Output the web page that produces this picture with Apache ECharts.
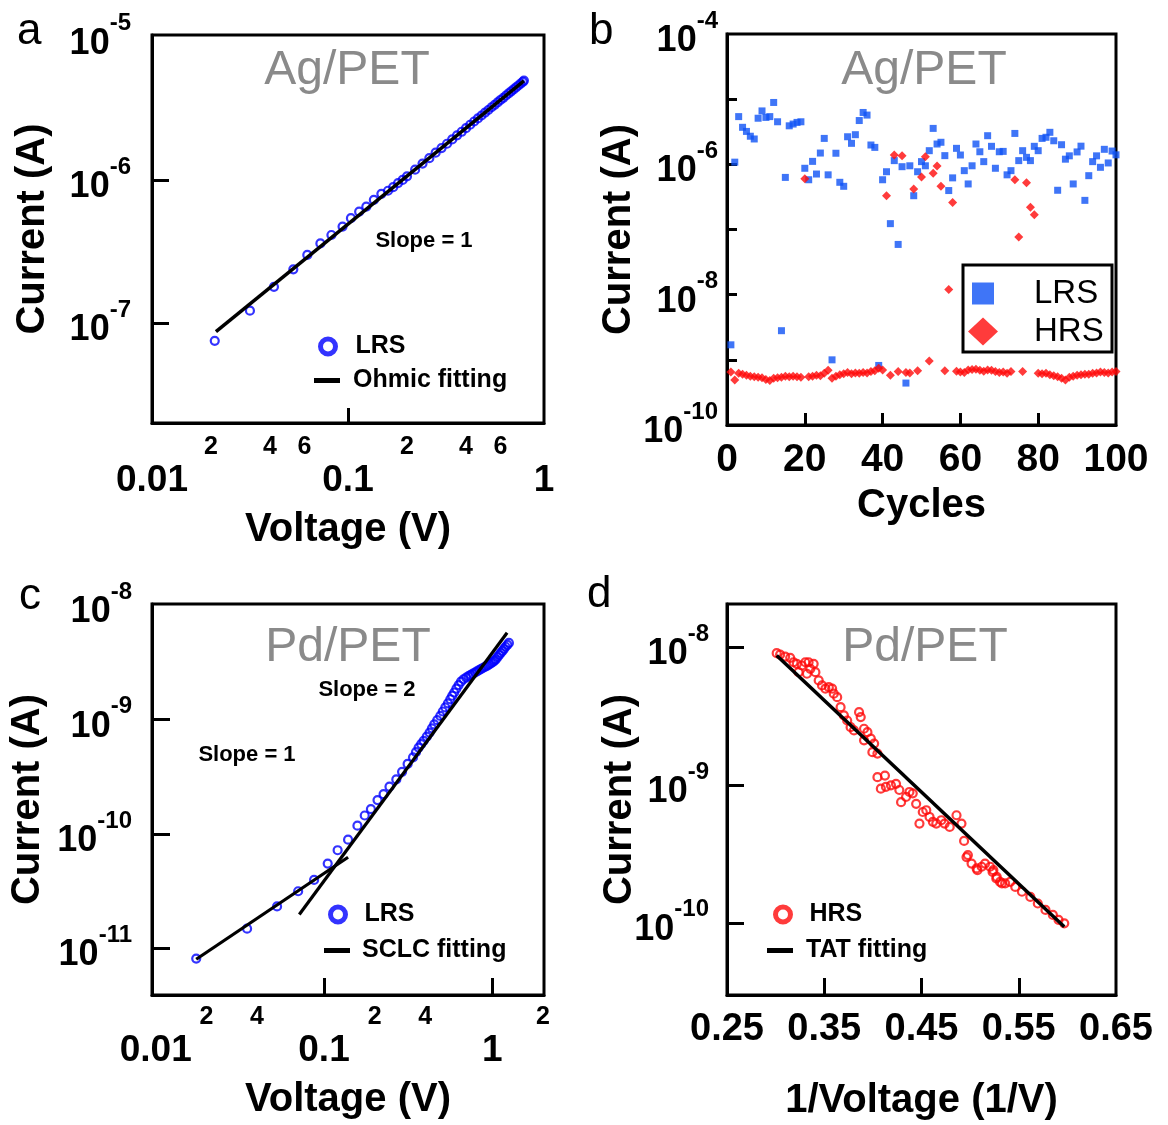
<!DOCTYPE html>
<html>
<head>
<meta charset="utf-8">
<script src="https://cdn.jsdelivr.net/npm/echarts@6/dist/echarts.min.js"></script>
<style>html,body{margin:0;padding:0;background:#fff}#c{width:1168px;height:1125px}</style>
</head>
<body>
<div id="c"></div>
<script>
// ---------------- Panel a : Ag/PET LRS I-V (log-log) ----------------
const aVoltage = [0.0209, 0.0316, 0.0419, 0.0526, 0.062, 0.0723, 0.0823, 0.0938, 0.1035, 0.114,
  0.124, 0.1355, 0.148, 0.16, 0.17, 0.18, 0.19, 0.20, 0.22, 0.24, 0.26, 0.28, 0.30, 0.32, 0.34,
  0.36, 0.38, 0.40, 0.42, 0.44, 0.46, 0.48, 0.50, 0.52, 0.54, 0.56, 0.58, 0.60, 0.62, 0.64, 0.66,
  0.68, 0.70, 0.72, 0.74, 0.76, 0.78, 0.79];
const aCurrent = [7.5e-8, 1.22e-7, 1.79e-7, 2.37e-7, 2.99e-7, 3.6e-7, 4.12e-7, 4.72e-7, 5.4e-7, 6.0e-7,
  6.5e-7, 7.25e-7, 8.0e-7, 8.4e-7, 8.9e-7, 9.5e-7, 1.0e-6, 1.06e-6, 1.18e-6, 1.30e-6, 1.42e-6, 1.55e-6,
  1.67e-6, 1.79e-6, 1.92e-6, 2.05e-6, 2.17e-6, 2.30e-6, 2.43e-6, 2.56e-6, 2.69e-6, 2.82e-6, 2.95e-6,
  3.08e-6, 3.22e-6, 3.35e-6, 3.48e-6, 3.62e-6, 3.75e-6, 3.89e-6, 4.02e-6, 4.16e-6, 4.30e-6, 4.43e-6,
  4.57e-6, 4.71e-6, 4.85e-6, 4.95e-6];
const aFitVoltage = [0.0212, 0.79];
const aFitCurrent = [8.7e-8, 4.93e-6];

// ---------------- Panel b : Ag/PET endurance ----------------
const bCycles = [1,2,3,4,5,6,7,8,9,10,11,12,13,14,15,16,17,18,19,20,21,22,23,24,25,26,27,28,29,30,
  31,32,33,34,35,36,37,38,39,40,41,42,43,44,45,46,47,48,49,50,51,52,53,54,55,56,57,58,59,60,
  61,62,63,64,65,66,67,68,69,70,71,72,73,74,75,76,77,78,79,80,81,82,83,84,85,86,87,88,89,90,
  91,92,93,94,95,96,97,98,99,100];
const bLRS = [1.7e-9, 1.08e-6, 5.4e-6, 3.7e-6, 3.2e-6, 2.7e-6, 2.45e-6, 5.1e-6, 6.6e-6, 5.25e-6,
  5.4e-6, 8.9e-6, 4.5e-6, 2.8e-9, 6.3e-7, 3.9e-6, 4.15e-6, 4.4e-6, 4.5e-6, 8.7e-7,
  5.8e-7, 1.11e-6, 7.1e-7, 1.49e-6, 2.5e-6, 6.9e-7, 1.0e-9, 1.48e-6, 5.3e-7, 4.6e-7,
  2.65e-6, 2.1e-6, 2.85e-6, 4.7e-6, 6.25e-6, 5.7e-6, 1.98e-6, 1.82e-6, 8.2e-10, 5.8e-7,
  7.7e-7, 1.23e-7, 1.14e-6, 5.9e-8, 9.2e-7, 4.4e-10, 9.5e-7, 3.3e-7, 7.7e-7, 1.1e-6,
  9.5e-7, 1.62e-6, 3.56e-6, 2.05e-6, 2.18e-6, 1.36e-6, 3.96e-7, 6.2e-7, 1.76e-6, 1.39e-6,
  8.0e-7, 5.0e-7, 9.5e-7, 2.05e-6, 1.56e-6, 1.1e-6, 2.75e-6, 1.89e-6, 8.7e-7, 1.56e-6,
  1.58e-6, 6.9e-7, 8.0e-7, 2.98e-6, 1.14e-6, 1.62e-6, 1.28e-6, 1.14e-6, 1.89e-6, 1.62e-6,
  2.5e-6, 2.6e-6, 3.1e-6, 2.3e-6, 4.0e-7, 2.0e-6, 1.2e-6, 1.35e-6, 5.0e-7, 1.55e-6,
  1.9e-6, 2.8e-7, 6.7e-7, 1.1e-6, 1.35e-6, 9.0e-7, 1.7e-6, 1.05e-6, 1.6e-6, 1.4e-6];
const bHRS = [6.5e-10, 4.9e-10, 6.2e-10, 6.0e-10, 5.8e-10, 5.6e-10, 5.5e-10, 5.4e-10, 5.3e-10, 5.0e-10,
  4.8e-10, 5.2e-10, 5.3e-10, 5.4e-10, 5.6e-10, 5.5e-10, 5.6e-10, 5.5e-10, 5.4e-10, 6.0e-7,
  5.5e-10, 5.6e-10, 5.8e-10, 5.7e-10, 6.2e-10, 6.9e-10, 5.2e-10, 5.6e-10, 5.9e-10, 6.1e-10,
  6.4e-10, 6.1e-10, 6.3e-10, 6.2e-10, 6.4e-10, 6.3e-10, 6.6e-10, 6.8e-10, 7.4e-10, 7.0e-10,
  3.3e-7, 5.8e-10, 1.39e-6, 6.6e-10, 1.36e-6, 6.4e-10, 6.3e-10, 4.2e-7, 6.8e-10, 6.4e-7,
  1.31e-6, 9.6e-10, 7.3e-7, 9.4e-7, 4.6e-7, 6.8e-10, 1.2e-8, 2.6e-7, 6.7e-10, 6.5e-10,
  6.4e-10, 7.0e-10, 7.1e-10, 7.2e-10, 6.9e-10, 6.7e-10, 7.0e-10, 6.9e-10, 6.6e-10, 6.4e-10,
  6.5e-10, 6.2e-10, 6.6e-10, 5.8e-7, 7.7e-8, 6.6e-10, 5.2e-7, 2.2e-7, 1.68e-7, 6.2e-10,
  6.1e-10, 6.2e-10, 5.9e-10, 5.7e-10, 5.5e-10, 5.2e-10, 4.9e-10, 5.4e-10, 5.6e-10, 5.8e-10,
  5.9e-10, 6.0e-10, 6.0e-10, 6.2e-10, 6.3e-10, 6.5e-10, 6.4e-10, 6.3e-10, 6.5e-10, 6.6e-10];

// ---------------- Panel c : Pd/PET LRS I-V (log-log) ----------------
const cVoltage = [0.0174, 0.0349, 0.0526, 0.0702, 0.0873, 0.1052, 0.1205, 0.139, 0.158, 0.1746,
  0.19, 0.208, 0.226, 0.245, 0.269, 0.291, 0.314, 0.338, 0.352, 0.365, 0.378, 0.391, 0.408, 0.424,
  0.438, 0.452, 0.471, 0.491, 0.508, 0.526, 0.545, 0.563, 0.578, 0.594, 0.612, 0.631, 0.652, 0.675,
  0.70, 0.723, 0.745, 0.768, 0.79, 0.811, 0.835, 0.86, 0.885, 0.91, 0.935, 0.96, 0.985, 1.01,
  1.03, 1.05, 1.075, 1.10, 1.125, 1.15, 1.175, 1.20, 1.23, 1.256];
const cCurrent = [8.1e-12, 1.48e-11, 2.32e-11, 3.15e-11, 3.96e-11, 5.5e-11, 7.2e-11, 8.9e-11, 1.18e-10, 1.45e-10,
  1.65e-10, 1.98e-10, 2.23e-10, 2.59e-10, 3.0e-10, 3.5e-10, 4.1e-10, 4.67e-10, 5.2e-10, 5.7e-10, 6.1e-10,
  6.53e-10, 7.1e-10, 7.72e-10, 8.4e-10, 9.1e-10, 9.9e-10, 1.08e-9, 1.18e-9, 1.28e-9, 1.39e-9, 1.51e-9,
  1.62e-9, 1.73e-9, 1.87e-9, 2.01e-9, 2.15e-9, 2.26e-9, 2.34e-9, 2.41e-9, 2.47e-9, 2.53e-9, 2.59e-9,
  2.65e-9, 2.72e-9, 2.78e-9, 2.85e-9, 2.92e-9, 2.98e-9, 3.05e-9, 3.12e-9, 3.2e-9, 3.29e-9, 3.38e-9,
  3.53e-9, 3.7e-9, 3.85e-9, 4.0e-9, 4.17e-9, 4.35e-9, 4.52e-9, 4.7e-9];
const cFit1Voltage = [0.0174, 0.139];
const cFit1Current = [8.0e-12, 6.25e-11];
const cFit2Voltage = [0.0713, 1.225];
const cFit2Current = [1.97e-11, 5.77e-9];

// ---------------- Panel d : Pd/PET HRS vs 1/V ----------------
const dInvVoltage = [0.3011, 0.3046, 0.3098, 0.315, 0.3184, 0.3218, 0.3236, 0.327, 0.3305, 0.3322,
  0.3339, 0.3357, 0.3391, 0.3409, 0.3443, 0.3477, 0.3512, 0.3547, 0.3581, 0.3598, 0.3633, 0.3668,
  0.3702, 0.3736, 0.3771, 0.3806, 0.3858, 0.3875, 0.3909, 0.3909, 0.3944, 0.3979, 0.3995, 0.4013,
  0.4047, 0.4047, 0.4082, 0.4124, 0.4134, 0.4186, 0.4238, 0.4272, 0.429, 0.4341, 0.4376, 0.441,
  0.4445, 0.4479, 0.4513, 0.4549, 0.4583, 0.4617, 0.4652, 0.4704, 0.4738, 0.479, 0.486, 0.4911,
  0.4938, 0.4963, 0.4977, 0.5015, 0.5067, 0.5075, 0.5119, 0.5153, 0.5205, 0.5231, 0.5239, 0.5269,
  0.5274, 0.5308, 0.5327, 0.536, 0.5412, 0.5464, 0.5533, 0.5619, 0.5696, 0.5775, 0.5851, 0.5909, 0.5968];
const dCurrent = [9.05e-9, 8.85e-9, 8.56e-9, 8.38e-9, 7.78e-9, 7.58e-9, 6.59e-9, 7.37e-9, 7.78e-9, 6.42e-9,
  7.78e-9, 6.97e-9, 7.58e-9, 6.59e-9, 5.74e-9, 5.28e-9, 5.0e-9, 5.13e-9, 5.0e-9, 4.6e-9, 4.34e-9, 3.67e-9,
  3.2e-9, 2.94e-9, 2.63e-9, 2.49e-9, 3.38e-9, 3.11e-9, 2.56e-9, 2.11e-9, 2.42e-9, 2.17e-9, 1.73e-9, 2.0e-9,
  1.69e-9, 1.14e-9, 9.4e-10, 1.17e-9, 9.7e-10, 9.95e-10, 1.02e-9, 9.2e-10, 7.5e-10, 8.2e-10, 8.9e-10, 8.7e-10,
  7.3e-10, 5.25e-10, 6.37e-10, 6.56e-10, 5.86e-10, 5.4e-10, 5.25e-10, 5.55e-10, 5.25e-10, 4.96e-10, 6.03e-10, 5.25e-10,
  3.93e-10, 3.0e-10, 3.1e-10, 2.69e-10, 2.48e-10, 2.41e-10, 2.55e-10, 2.69e-10, 2.55e-10, 2.34e-10, 2.41e-10, 2.1e-10,
  2.15e-10, 1.98e-10, 1.93e-10, 1.93e-10, 1.98e-10, 1.82e-10, 1.68e-10, 1.54e-10, 1.38e-10, 1.24e-10, 1.14e-10, 1.05e-10, 9.9e-11];
const dFitInvVoltage = [0.3011, 0.5968];
const dFitCurrent = [8.7e-9, 9.35e-11];

// ---------------- Tick labels ----------------
const aYLabels = [1e-5, 1e-6, 1e-7];
const aYTicks = [1e-6, 1e-7];
const aXMinorLabels = [0.02, 0.04, 0.06, 0.2, 0.4, 0.6];
const aXMajorLabels = [0.01, 0.1, 1];
const aXTicks = [0.1];
const bYLabels = [1e-4, 1e-6, 1e-8, 1e-10];
const bYTicks = [1e-5, 1e-6, 1e-7, 1e-8, 1e-9];
const bXTicks = [20, 40, 60, 80];
const cYLabels = [1e-8, 1e-9, 1e-10, 1e-11];
const cYTicks = [1e-9, 1e-10, 1e-11];
const cXMinorLabels = [0.02, 0.04, 0.2, 0.4, 2];
const cXMajorLabels = [0.01, 0.1, 1];
const cXTicks = [0.1, 1];
const dYLabels = [1e-8, 1e-9, 1e-10];
const dXLabels = [0.25, 0.35, 0.45, 0.55, 0.65];
const dXTicks = [0.35, 0.45, 0.55];

// ---------------- Styling ----------------
const FONT = '"Liberation Sans", Arial, Helvetica, sans-serif';
const BLACK = '#000';
const BLUE_O = '#0000ff';
const BLUE_SQ = '#0f52f5';
const RED = '#ff0a0a';
const GRAY = '#8a8a8a';

const zip = (xs, ys) => xs.map((x, i) => [x, ys[i]]);

const supRich = {
  b: {fontSize: 36, fontWeight: 'bold', fontFamily: FONT, color: BLACK, padding: [14, 0, 0, 0]},
  s: {fontSize: 24, fontWeight: 'bold', fontFamily: FONT, color: BLACK, verticalAlign: 'top'}
};
const powFmt = v => '{b|10}{s|' + Math.round(Math.log10(v)) + '}';
const leadFmt = v => String(Math.round(v / Math.pow(10, Math.floor(Math.log10(v) + 1e-9))));

function nameStyle() { return {fontSize: 40, fontWeight: 'bold', color: BLACK, fontFamily: FONT}; }
function lineSt() { return {show: true, onZero: false, lineStyle: {color: BLACK, width: 3}}; }
function tickSt(vals, len) { return {show: true, inside: true, length: len, customValues: vals, lineStyle: {color: BLACK, width: 3}}; }

function yLog(gridIndex, min, max, labels, ticks, margin, nameGap, tickLen) {
  return {
    type: 'log', logBase: 10, gridIndex, min, max,
    name: 'Current (A)', nameLocation: 'middle', nameGap, nameRotate: 90, nameMoveOverlap: false,
    nameTextStyle: nameStyle(),
    axisLine: lineSt(), axisTick: tickSt(ticks, tickLen),
    minorTick: {show: false}, splitLine: {show: false},
    axisLabel: {show: true, margin, customValues: labels, formatter: powFmt, rich: supRich}
  };
}

const gridBase = {show: true, borderColor: BLACK, borderWidth: 3, backgroundColor: 'transparent', containLabel: false, outerBoundsMode: 'none'};

function legendOf(name, text, left, top, w, h, icon, itemStyle, font, padLeft) {
  return {
    show: true, left, top, padding: 0, itemWidth: w, itemHeight: h, itemGap: 0,
    selectedMode: false, orient: 'horizontal',
    data: [{name, icon, itemStyle}],
    formatter: () => '{t|' + text + '}',
    textStyle: {rich: {t: Object.assign({padding: [0, 0, 0, padLeft], color: BLACK, fontFamily: FONT}, font)}}
  };
}
const hollow = c => ({color: 'rgba(0,0,0,0)', borderColor: c, borderWidth: 5});
const legFont = {fontSize: 25, fontWeight: 'bold'};
const legFontB = {fontSize: 33, fontWeight: 'normal'};

function txt(text, x, y, size, weight, fill, align) {
  return {type: 'text', x, y, z: 100, silent: true,
    style: {text, fontSize: size, fontWeight: weight, fontFamily: FONT, fill, align: align || 'center', verticalAlign: 'middle'}};
}

const option = {
  animation: false,
  backgroundColor: '#fff',
  textStyle: {fontFamily: FONT},
  grid: [
    Object.assign({left: 152, top: 35, width: 392, height: 388}, gridBase),
    Object.assign({left: 727, top: 34, width: 389, height: 391}, gridBase),
    Object.assign({left: 152, top: 604, width: 392, height: 391}, gridBase),
    Object.assign({left: 727, top: 604, width: 389, height: 391}, gridBase)
  ],
  xAxis: [
    {type: 'log', logBase: 10, gridIndex: 0, min: 0.01, max: 1, position: 'bottom',
      axisLine: lineSt(), axisTick: tickSt(aXTicks, 15), splitLine: {show: false}, minorTick: {show: false},
      axisLabel: {customValues: aXMinorLabels, formatter: leadFmt, fontSize: 25, fontWeight: 'bold', color: BLACK, fontFamily: FONT, margin: 12}},
    {type: 'log', logBase: 10, gridIndex: 0, min: 0.01, max: 1, position: 'bottom',
      axisLine: {show: false}, axisTick: {show: false}, splitLine: {show: false},
      axisLabel: {customValues: aXMajorLabels, formatter: v => String(v), fontSize: 37, fontWeight: 'bold', color: BLACK, fontFamily: FONT, margin: 39},
      name: 'Voltage (V)', nameLocation: 'middle', nameGap: 87, nameMoveOverlap: false, nameTextStyle: nameStyle()},
    {type: 'value', gridIndex: 1, min: 0, max: 100, interval: 20, position: 'bottom',
      axisLine: lineSt(), axisTick: tickSt(bXTicks, 12), splitLine: {show: false},
      axisLabel: {fontSize: 39, fontWeight: 'bold', color: BLACK, fontFamily: FONT, margin: 16},
      name: 'Cycles', nameLocation: 'middle', nameGap: 61, nameMoveOverlap: false, nameTextStyle: nameStyle()},
    {type: 'log', logBase: 10, gridIndex: 2, min: 0.0095, max: 2.03, position: 'bottom',
      axisLine: lineSt(), axisTick: tickSt(cXTicks, 17), splitLine: {show: false}, minorTick: {show: false},
      axisLabel: {customValues: cXMinorLabels, formatter: leadFmt, fontSize: 25, fontWeight: 'bold', color: BLACK, fontFamily: FONT, margin: 10}},
    {type: 'log', logBase: 10, gridIndex: 2, min: 0.0095, max: 2.03, position: 'bottom',
      axisLine: {show: false}, axisTick: {show: false}, splitLine: {show: false},
      axisLabel: {customValues: cXMajorLabels, formatter: v => String(v), fontSize: 37, fontWeight: 'bold', color: BLACK, fontFamily: FONT, margin: 37},
      name: 'Voltage (V)', nameLocation: 'middle', nameGap: 85, nameMoveOverlap: false, nameTextStyle: nameStyle()},
    {type: 'value', gridIndex: 3, min: 0.25, max: 0.65, position: 'bottom',
      axisLine: lineSt(), axisTick: tickSt(dXTicks, 17), splitLine: {show: false},
      axisLabel: {customValues: dXLabels, formatter: v => v.toFixed(2), fontSize: 38, fontWeight: 'bold', color: BLACK, fontFamily: FONT, margin: 16},
      name: '1/Voltage (1/V)', nameLocation: 'middle', nameGap: 86, nameMoveOverlap: false, nameTextStyle: nameStyle()}
  ],
  yAxis: [
    yLog(0, 2.0e-8, 1.03e-5, aYLabels, aYTicks, 21, 99, 17),
    yLog(1, 1e-10, 1e-4, bYLabels, bYTicks, 9, 88, 10),
    yLog(2, 3.89e-12, 1.03e-8, cYLabels, cYTicks, 20, 104, 18),
    yLog(3, 2.99e-11, 2.06e-8, dYLabels, dYLabels, 18, 87, 17)
  ],
  legend: [
    legendOf('LRS_a', 'LRS', 318, 334, 15, 15, 'circle', hollow(BLUE_O), legFont, 15),
    legendOf('fit_a', 'Ohmic fitting', 314, 368, 26, 5, 'rect', {color: BLACK, borderWidth: 0}, legFont, 8),
    legendOf('LRS_b', 'LRS', 972, 277, 22, 22, 'rect', {color: BLUE_SQ, borderWidth: 0}, legFontB, 35),
    legendOf('HRS_b', 'HRS', 968, 315, 30, 28, 'diamond', {color: RED, borderWidth: 0}, legFontB, 31),
    legendOf('LRS_c', 'LRS', 328, 902, 15, 15, 'circle', hollow(BLUE_O), legFont, 14),
    legendOf('fit_c', 'SCLC fitting', 324, 938, 26, 5, 'rect', {color: BLACK, borderWidth: 0}, legFont, 7),
    legendOf('HRS_d', 'HRS', 773, 902, 15, 15, 'circle', hollow(RED), legFont, 14),
    legendOf('fit_d', 'TAT fitting', 767, 938, 26, 5, 'rect', {color: BLACK, borderWidth: 0}, legFont, 8)
  ],
  series: [
    {name: 'LRS_a', type: 'scatter', xAxisIndex: 0, yAxisIndex: 0, symbol: 'circle', symbolSize: 8,
      itemStyle: {color: 'rgba(0,0,0,0)', borderColor: BLUE_O, borderWidth: 2.2}, data: zip(aVoltage, aCurrent)},
    {name: 'fit_a', type: 'line', xAxisIndex: 0, yAxisIndex: 0, symbol: 'none', itemStyle: {color: BLACK},
      lineStyle: {color: BLACK, width: 3.5}, data: zip(aFitVoltage, aFitCurrent)},
    {name: 'LRS_b', type: 'scatter', xAxisIndex: 2, yAxisIndex: 1, symbol: 'rect', symbolSize: 7,
      itemStyle: {color: BLUE_SQ}, data: zip(bCycles, bLRS)},
    {name: 'HRS_b', type: 'scatter', xAxisIndex: 2, yAxisIndex: 1, symbol: 'diamond', symbolSize: 9,
      itemStyle: {color: RED}, data: zip(bCycles, bHRS)},
    {name: 'LRS_c', type: 'scatter', xAxisIndex: 3, yAxisIndex: 2, symbol: 'circle', symbolSize: 8,
      itemStyle: {color: 'rgba(0,0,0,0)', borderColor: BLUE_O, borderWidth: 2.2}, data: zip(cVoltage, cCurrent)},
    {name: 'fit_c', type: 'line', xAxisIndex: 3, yAxisIndex: 2, symbol: 'none', itemStyle: {color: BLACK},
      lineStyle: {color: BLACK, width: 3.2}, data: zip(cFit1Voltage, cFit1Current)},
    {name: 'fit_c', type: 'line', xAxisIndex: 3, yAxisIndex: 2, symbol: 'none', itemStyle: {color: BLACK},
      lineStyle: {color: BLACK, width: 3.2}, data: zip(cFit2Voltage, cFit2Current)},
    {name: 'HRS_d', type: 'scatter', xAxisIndex: 5, yAxisIndex: 3, symbol: 'circle', symbolSize: 8,
      itemStyle: {color: 'rgba(0,0,0,0)', borderColor: RED, borderWidth: 2.2}, data: zip(dInvVoltage, dCurrent)},
    {name: 'fit_d', type: 'line', xAxisIndex: 5, yAxisIndex: 3, symbol: 'none', itemStyle: {color: BLACK},
      lineStyle: {color: BLACK, width: 3.5}, data: zip(dFitInvVoltage, dFitCurrent)}
  ],
  graphic: [
    txt('a', 17, 32, 44, 'normal', BLACK, 'left'),
    txt('b', 589, 32, 44, 'normal', BLACK, 'left'),
    txt('c', 19, 597, 44, 'normal', BLACK, 'left'),
    txt('d', 587, 595, 44, 'normal', BLACK, 'left'),
    txt('Ag/PET', 347, 71, 48, 'normal', GRAY),
    txt('Ag/PET', 924, 71, 48, 'normal', GRAY),
    txt('Pd/PET', 348, 648, 48, 'normal', GRAY),
    txt('Pd/PET', 925, 648, 48, 'normal', GRAY),
    txt('Slope = 1', 424, 241, 22, 'bold', BLACK),
    txt('Slope = 2', 367, 690, 22, 'bold', BLACK),
    txt('Slope = 1', 247, 755, 22, 'bold', BLACK),
    {type: 'rect', shape: {x: 963, y: 265, width: 149, height: 87}, z: 90, silent: true,
      style: {fill: 'none', stroke: BLACK, lineWidth: 3}}
  ]
};

const chart = echarts.init(document.getElementById('c'), null, {renderer: 'canvas', width: 1168, height: 1125});
chart.setOption(option);
</script>
</body>
</html>
